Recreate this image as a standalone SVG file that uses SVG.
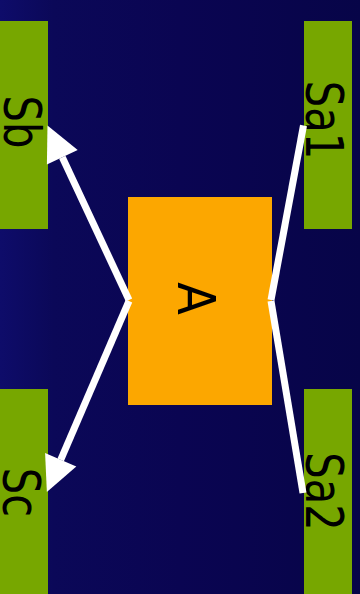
<svg xmlns="http://www.w3.org/2000/svg" width="360" height="594" viewBox="0 0 360 594">
  <defs>
    <linearGradient id="bg" x1="0" y1="0" x2="1" y2="0">
      <stop offset="0" stop-color="#0e0c6a"/>
      <stop offset="0.15" stop-color="#0b0858"/>
      <stop offset="0.5" stop-color="#0a0552"/>
      <stop offset="1" stop-color="#070548"/>
    </linearGradient>
    <marker id="head" markerUnits="userSpaceOnUse" markerWidth="40" markerHeight="40" refX="0" refY="0" orient="auto" overflow="visible">
      <path d="M0,-17 L35,0 L0,17 Z" fill="#ffffff"/>
    </marker>
    <style>
      .side { fill: #77a700; }
      .main { fill: #fca700; }
      .label { font-family: "DejaVu Sans", sans-serif; font-size: 52px; fill: #000000; text-anchor: middle; }
      .edge { stroke: #ffffff; stroke-width: 7; fill: none; stroke-linecap: butt; }
    </style>
  </defs>

  <rect x="0" y="0" width="360" height="594" fill="url(#bg)"/>

  <g id="Sb">
    <rect class="side" x="0" y="21" width="48" height="208"/>
    <text class="label" transform="translate(3.5,122) rotate(90) scale(0.8,1)">Sb</text>
  </g>
  <g id="Sa1">
    <rect class="side" x="304" y="21" width="48" height="208"/>
    <text class="label" transform="translate(306,120) rotate(90) scale(0.8,1)">Sa1</text>
  </g>
  <g id="A">
    <rect class="main" x="128" y="197" width="144" height="208"/>
    <text class="label" transform="translate(178,298.5) rotate(90) scale(0.92,1)">A</text>
  </g>
  <g id="Sc">
    <rect class="side" x="0" y="389" width="48" height="208"/>
    <text class="label" transform="translate(3,492.5) rotate(90) scale(0.8,1)">Sc</text>
  </g>
  <g id="Sa2">
    <rect class="side" x="304" y="389" width="48" height="208"/>
    <text class="label" transform="translate(306,491.5) rotate(90) scale(0.8,1)">Sa2</text>
  </g>

  <g id="edges">
    <line class="edge" x1="129" y1="300" x2="62.3" y2="157.3" marker-end="url(#head)"/>
    <line class="edge" x1="129" y1="301" x2="60.7" y2="459.8" marker-end="url(#head)"/>
    <line class="edge" x1="271" y1="300" x2="303.5" y2="125.5"/>
    <line class="edge" x1="271" y1="301" x2="303" y2="493"/>
  </g>
</svg>
